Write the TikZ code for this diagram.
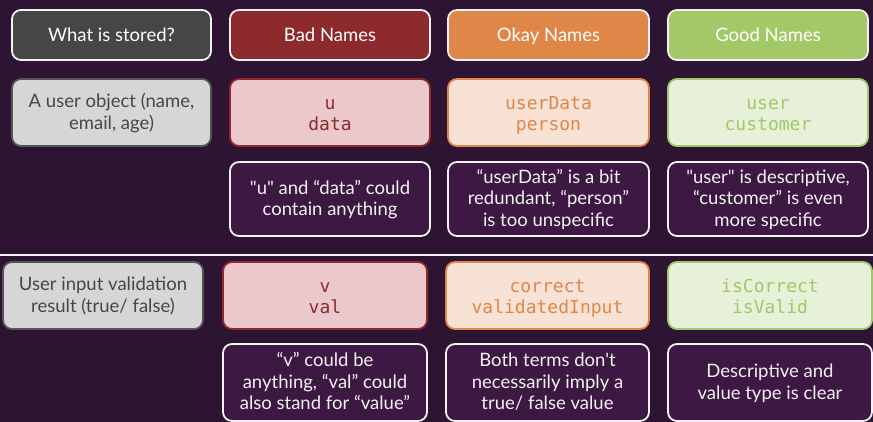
\documentclass[tikz,border=0pt]{standalone}
\usepackage{fontspec}
\setmainfont{Lato}[Ligatures=TeXOff]
\setmonofont{DejaVu Sans Mono}
\definecolor{bg}{HTML}{2D1433}
\definecolor{cmt}{HTML}{3D1842}
\definecolor{hgray}{HTML}{464646}
\definecolor{hred}{HTML}{8C2A2E}
\definecolor{horange}{HTML}{DF8748}
\definecolor{hgreen}{HTML}{A2C868}
\definecolor{lgray}{HTML}{D6D6D6}
\definecolor{bgray}{HTML}{555555}
\definecolor{tgray}{HTML}{474747}
\definecolor{lred}{HTML}{EBC8CB}
\definecolor{lorange}{HTML}{F8E2D5}
\definecolor{lgreen}{HTML}{E7F1DA}
\definecolor{wline}{HTML}{F2F2F2}
\newcommand\boxtxt[1]{\begin{tabular}{@{}c@{}}#1\end{tabular}}
\begin{document}
\begin{tikzpicture}[x=1pt,y=-1pt,
  box/.style={rounded corners=9pt, line width=1.8pt, inner sep=0pt},
  head/.style={box, draw=wline, minimum height=50pt},
  val/.style={box, minimum height=67pt},
  cmtbox/.style={box, draw=wline, fill=cmt},
  txt/.style={inner sep=0pt, yshift=-1.5pt, font=\fontsize{18.5}{21.5}\selectfont},
  htxt/.style={txt, yshift=-1pt, text=white},
  ctxt/.style={txt, text=wline},
  code/.style={txt, yshift=-1.5pt, font=\fontsize{18}{21}\selectfont\ttfamily},
]
\fill[bg] (0,0) rectangle (873,422);
\useasboundingbox (0,0) rectangle (873,422);
% header
\node[head, fill=hgray, minimum width=199pt] (h1) at (111.5,35) {};
\node[head, fill=hred, minimum width=200pt] (h2) at (330,35) {};
\node[head, fill=horange, minimum width=201pt] (h3) at (548.5,35) {};
\node[head, fill=hgreen, minimum width=200pt] (h4) at (768,35) {};
\node[htxt] (h1t) at (h1) {\boxtxt{What is stored?}};
\node[htxt] (h2t) at (h2) {\boxtxt{Bad Names}};
\node[htxt] (h3t) at (h3) {\boxtxt{Okay Names}};
\node[htxt] (h4t) at (h4) {\boxtxt{Good Names}};
% row 1
\node[val, fill=lgray, draw=bgray, minimum width=199pt] (a1) at (111.5,112.5) {};
\node[val, fill=lred, draw=hred, minimum width=200pt] (a2) at (330,112.5) {};
\node[val, fill=lorange, draw=horange, minimum width=201pt] (a3) at (548.5,112.5) {};
\node[val, fill=lgreen, draw=hgreen, minimum width=200pt] (a4) at (768,112.5) {};
\node[txt, text=tgray] (a1t) at (a1) {\boxtxt{A user object (name,\\email, age)}};
\node[code, text=hred] (a2t) at (a2) {\boxtxt{u\\data}};
\node[code, text=horange] (a3t) at (a3) {\boxtxt{userData\\person}};
\node[code, text=hgreen] (a4t) at (a4) {\boxtxt{user\\customer}};
\node[cmtbox, minimum width=200pt, minimum height=74pt] (c2) at (330,199) {};
\node[cmtbox, minimum width=201pt, minimum height=74pt] (c3) at (548.5,199) {};
\node[cmtbox, minimum width=200pt, minimum height=74pt] (c4) at (768,199) {};
\node[ctxt] (c2t) at (c2) {\boxtxt{"u" and “data” could\\contain anything}};
\node[ctxt] (c3t) at (c3) {\boxtxt{“userData” is a bit\\redundant, “person”\\is too unspecific}};
\node[ctxt] (c4t) at (c4) {\boxtxt{"user" is descriptive,\\“customer” is even\\more specific}};
% separator
\coordinate (sl) at (0,255);
\coordinate (sr) at (873,255);
\draw[wline, line width=1.2pt] (sl) -- (sr);
% row 2
\node[val, fill=lgray, draw=bgray, minimum width=200pt] (b1) at (103,295.5) {};
\node[val, fill=lred, draw=hred, minimum width=204pt] (b2) at (325,295.5) {};
\node[val, fill=lorange, draw=horange, minimum width=203pt] (b3) at (547.5,295.5) {};
\node[val, fill=lgreen, draw=hgreen, minimum width=204pt] (b4) at (770,295.5) {};
\node[txt, text=tgray] (b1t) at (b1) {\boxtxt{User input validation\\result (true/ false)}};
\node[code, text=hred] (b2t) at (b2) {\boxtxt{v\\val}};
\node[code, text=horange] (b3t) at (b3) {\boxtxt{correct\\validatedInput}};
\node[code, text=hgreen] (b4t) at (b4) {\boxtxt{isCorrect\\isValid}};
\node[cmtbox, minimum width=204pt, minimum height=77pt] (d2) at (325,382.5) {};
\node[cmtbox, minimum width=203pt, minimum height=77pt] (d3) at (547.5,382.5) {};
\node[cmtbox, minimum width=204pt, minimum height=77pt] (d4) at (770,382.5) {};
\node[ctxt] (d2t) at (d2) {\boxtxt{“v” could be\\anything, “val” could\\also stand for “value”}};
\node[ctxt] (d3t) at (d3) {\boxtxt{Both terms don't\\necessarily imply a\\true/ false value}};
\node[ctxt] (d4t) at (d4) {\boxtxt{Descriptive and\\value type is clear}};
\end{tikzpicture}
\end{document}
